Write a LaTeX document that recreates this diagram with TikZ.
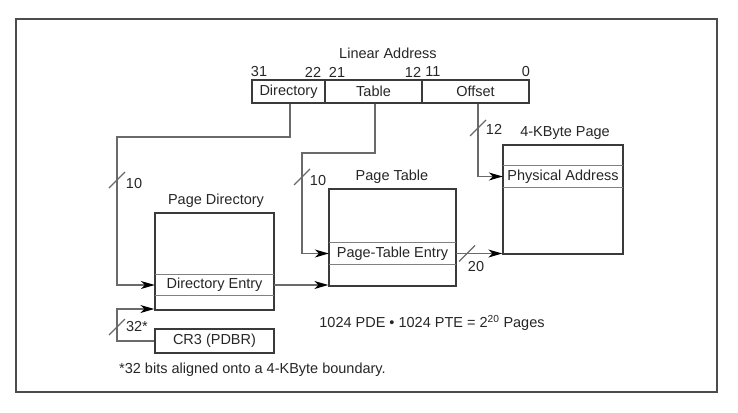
\documentclass[tikz,border=0pt]{standalone}
\usepackage{fontspec}
\setmainfont{Liberation Sans}
\usetikzlibrary{arrows.meta,calc}
\definecolor{boxc}{HTML}{3A3A3A}
\definecolor{connc}{HTML}{6A6A6A}
\definecolor{sepc}{HTML}{808080}
\definecolor{txtc}{HTML}{262626}
\tikzset{
  every node/.style={text=txtc, font=\fontsize{14.5}{16}\selectfont, inner sep=0pt},
  field/.style={draw=boxc, line width=1.4pt, minimum height=23pt},
  tblbox/.style={draw=boxc, line width=1.4pt},
  row/.style={minimum height=21pt},
  sepline/.style={draw=sepc, line width=1pt},
  conn/.style={draw=connc, line width=1.3pt},
  arr/.style={conn, -{Stealth[length=14pt,width=8pt,inset=4pt,color=black]}},
  lbl/.style={},
}
\begin{document}
\begin{tikzpicture}[x=1pt,y=-1pt]
\useasboundingbox (0,0) rectangle (738,412);
\draw[draw=gray!60!black, line width=2pt] (16,19) rectangle (717,392);

% Linear address
\node[lbl] (latitle) at (388,53) {Linear Address};
\node[field, minimum width=73pt] (fdir) at (288.5,91.5) {Directory};
\node[field, minimum width=97pt] (ftab) at (373.5,91.5) {Table};
\node[field, minimum width=107pt] (foff) at (475.5,91.5) {Offset};
\node (b31) at (259,72) {31};
\node (b22) at (313,72) {22};
\node (b21) at (337,72) {21};
\node (b12) at (413,72) {12};
\node (b11) at (433,72) {11};
\node (b0) at (526,72) {0};

% Page directory
\node (pdtitle) at (216,201) {Page Directory};
\node[tblbox, minimum width=119pt, minimum height=97pt] (pd) at (214.5,261.5) {};
\node[row, minimum width=119pt] (de) at (214.5,285) {Directory Entry};
\draw[sepline] (de.north west) -- (de.north east);
\draw[sepline] (de.south west) -- (de.south east);

% CR3
\node[tblbox, minimum width=119pt, minimum height=24pt] (cr3) at (214.5,341) {CR3 (PDBR)};

% Page table
\node (pttitle) at (392,177) {Page Table};
\node[tblbox, minimum width=127pt, minimum height=97pt] (pt) at (392.5,237.5) {};
\node[row, minimum width=127pt] (pte) at (392.5,253.5) {Page-Table Entry};
\draw[sepline] (pte.north west) -- (pte.north east);
\draw[sepline] (pte.south west) -- (pte.south east);

% 4-KByte page
\node (pgtitle) at (565,133) {4-KByte Page};
\node[tblbox, minimum width=120pt, minimum height=109pt] (pg) at (563,199.5) {};
\node[row, minimum width=120pt] (pa) at (563,176.5) {Physical Address};
\draw[sepline] (pa.north west) -- (pa.north east);
\draw[sepline] (pa.south west) -- (pa.south east);

% Directory connector
\coordinate (d1) at (290,137);
\coordinate (d2) at (117,137);
\draw[arr] (fdir.south -| d1) -- (d1) -- (d2) |- (de.west);
\coordinate (s1) at (117,180);
\draw[conn] ($(s1)+(-8,8)$) -- ($(s1)+(8,-8)$);
\node (n10a) at (134,184) {10};

% CR3 connector
\coordinate (c1) at (117,309);
\draw[arr] (cr3.west) -| (c1) -- (c1 -| pd.west);
\coordinate (s4) at (117,327);
\draw[conn] ($(s4)+(-8,8)$) -- ($(s4)+(8,-8)$);
\node (n32) at (137,327) {32*};

% Table connector
\coordinate (t1) at (375,153);
\coordinate (t2) at (302,153);
\draw[arr] (ftab.south -| t1) -- (t1) -- (t2) |- (pte.west);
\coordinate (s2) at (302,177);
\draw[conn] ($(s2)+(-8,8)$) -- ($(s2)+(8,-8)$);
\node (n10b) at (318,181) {10};

% Offset connector
\coordinate (o1) at (478,128);
\draw[arr] (foff.south -| o1) |- (pa.west);
\draw[conn] ($(o1)+(-8,8)$) -- ($(o1)+(8,-8)$);
\node (n12) at (494,129) {12};

% Directory entry -> page table
\draw[arr] (de.east) -- (de.east -| pt.west);

% PTE -> page
\draw[arr] (pte.east) -- (pte.east -| pg.west);
\coordinate (s3) at (467,253.5);
\draw[conn] ($(s3)+(-8,8)$) -- ($(s3)+(8,-8)$);
\node (n20) at (476,267) {20};

% Formula and footnote
\node (formula) at (432,323) {1024 PDE \textbullet\ 1024 PTE = 2\textsuperscript{20} Pages};
\node[anchor=west] (foot) at (119,370) {*32 bits aligned onto a 4-KByte boundary.};
\end{tikzpicture}
\end{document}
